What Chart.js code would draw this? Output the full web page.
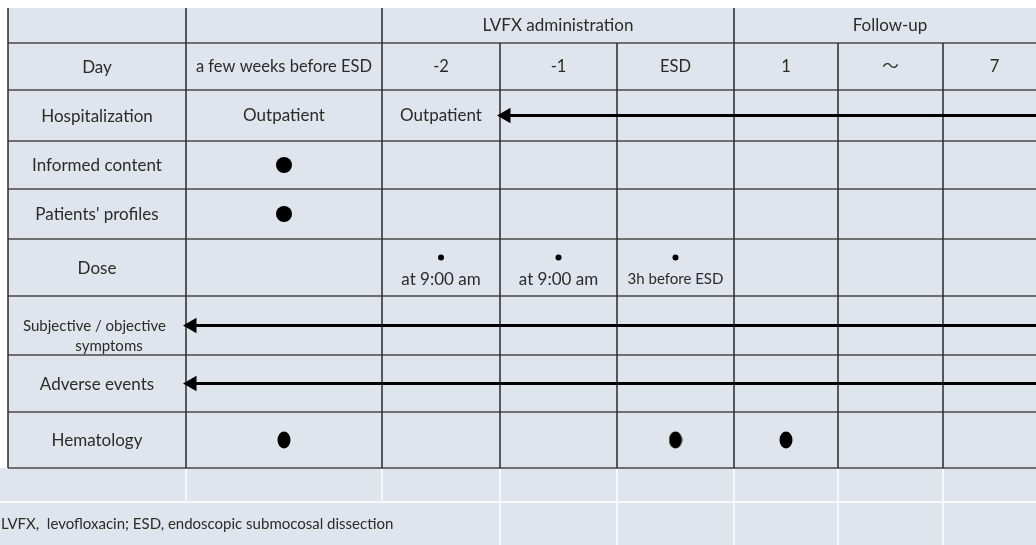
<!DOCTYPE html>
<html>
<head>
<meta charset="utf-8">
<script src="https://cdn.jsdelivr.net/npm/chart.js@4/dist/chart.umd.min.js"></script>
<style>
  html, body { margin: 0; padding: 0; background: #fff; }
  #wrap { width: 1036px; height: 545px; }
</style>
</head>
<body>
<div id="wrap"><canvas id="schedule" width="1036" height="545"></canvas></div>
<script>
// --- Data ---
const ROW_LABELS = [
  "", "Day", "Hospitalization", "Informed content", "Patients' profiles",
  "Dose", "Subjective / objective|symptoms", "Adverse events", "Hematology",
];
const DAY_LABELS = ["a few weeks before ESD", "-2", "-1", "ESD", "1", "\u301C", "7"];
const PHASES = ["LVFX administration", "Follow-up"];
const PHASE_FIRST_DAY = [1, 4]; // phase starts at this day column (runs to the next phase)

const HOSPITALIZATION = ["Outpatient", "Outpatient", "", "", "", "", ""];
const HOSP_ARROW_FROM = 2;     // arrow runs from the right edge back to this day column
const SYMPTOMS_ARROW_FROM = 0;
const ADVERSE_ARROW_FROM = 0;

const INFORMED_CONTENT = [1, 0, 0, 0, 0, 0, 0];
const PATIENT_PROFILES = [1, 0, 0, 0, 0, 0, 0];
const DOSE = [0, 1, 1, 1, 0, 0, 0];
const DOSE_NOTES = ["", "at 9:00 am", "at 9:00 am", "3h before ESD", "", "", ""];
const HEMATOLOGY = [1, 0, 0, 1, 1, 0, 0];

const FOOTNOTE = "LVFX,  levofloxacin; ESD, endoscopic submocosal dissection";

// --- Layout (canvas units) ---
const W = 1036, H = 545;
const COL_EDGES = [8, 186, 382, 500, 617, 734, 838, 943, 1046]; // label column + 7 day columns
const ROW_EDGES = [8, 43, 90, 141, 189, 239, 296, 355, 412, 468];
const EXTRA_ROW = 502;
const FONT = "Lato, 'Noto Sans CJK JP', sans-serif";
const INK = "#2b2b2b";

const rowOf = (name) => ROW_LABELS.findIndex((r) => r.startsWith(name));
const colCenter = (day) => (COL_EDGES[day + 1] + COL_EDGES[day + 2]) / 2;
const rowCenter = (row) => (ROW_EDGES[row] + ROW_EDGES[row + 1]) / 2;

function marks(flags, row, dy = 0) {
  return flags.map((f, i) => (f ? { x: colCenter(i), y: rowCenter(row) + dy } : null)).filter(Boolean);
}

function arrow(row, fromDay, label) {
  const headR = 6;
  return {
    label,
    type: "scatter",
    showLine: true,
    data: [
      { x: COL_EDGES[COL_EDGES.length - 1], y: rowCenter(row) },
      { x: COL_EDGES[fromDay + 1] + headR, y: rowCenter(row) },
    ],
    borderColor: "#000",
    backgroundColor: "#000",
    borderWidth: 3,
    pointRadius: [0, headR],
    pointStyle: "triangle",
    rotation: -90,
  };
}

// Hematology marks look like upright ovals in the source figure
const oval = document.createElement("canvas");
oval.width = 14;
oval.height = 18;
(() => {
  const c = oval.getContext("2d");
  c.fillStyle = "#000";
  c.beginPath();
  c.ellipse(7, 9, 6.5, 8.5, 0, 0, Math.PI * 2);
  c.fill();
})();

function text(ctx, str, x, y, size, align = "center") {
  ctx.font = `${size}px ${FONT}`;
  ctx.textAlign = align;
  ctx.textBaseline = "middle";
  ctx.fillStyle = INK;
  ctx.fillText(str, x, y);
}

const tablePlugin = {
  id: "scheduleTable",
  beforeDatasetsDraw(chart) {
    const { ctx, scales } = chart;
    const px = (v) => scales.x.getPixelForValue(v);
    const py = (v) => scales.y.getPixelForValue(v);
    const last = ROW_EDGES.length - 1;
    ctx.save();

    ctx.fillStyle = "#fff";
    ctx.fillRect(0, 0, W, H);
    ctx.fillStyle = "#dfe4ed";
    ctx.fillRect(px(COL_EDGES[0]), py(ROW_EDGES[0]), W, py(ROW_EDGES[last]) - py(ROW_EDGES[0]));
    ctx.fillRect(0, py(ROW_EDGES[last]), W, H);

    // faint grid under the table
    ctx.strokeStyle = "#f6f8fb";
    ctx.lineWidth = 2;
    ctx.beginPath();
    ctx.moveTo(0, py(EXTRA_ROW));
    ctx.lineTo(W, py(EXTRA_ROW));
    COL_EDGES.slice(1).forEach((e, i) => {
      ctx.moveTo(px(e), py(ROW_EDGES[last]));
      ctx.lineTo(px(e), py(i < 2 ? EXTRA_ROW : H));
    });
    ctx.stroke();

    // horizontal rules
    ctx.strokeStyle = "#6f6f6f";
    ctx.lineWidth = 2;
    ctx.beginPath();
    ROW_EDGES.slice(1).forEach((e) => {
      ctx.moveTo(px(COL_EDGES[0]), py(e));
      ctx.lineTo(W, py(e));
    });
    ctx.stroke();

    // vertical rules (top row only keeps the phase boundaries)
    ctx.strokeStyle = "#2a2a2a";
    ctx.lineWidth = 1.5;
    ctx.beginPath();
    const phaseEdges = [0, 1, ...PHASE_FIRST_DAY.map((d) => d + 1)];
    COL_EDGES.forEach((e, i) => {
      const top = phaseEdges.includes(i) ? ROW_EDGES[0] : ROW_EDGES[1];
      ctx.moveTo(px(e), py(top));
      ctx.lineTo(px(e), py(ROW_EDGES[last]));
    });
    ctx.stroke();

    // phase headers
    PHASES.forEach((p, i) => {
      const a = COL_EDGES[PHASE_FIRST_DAY[i] + 1];
      const b = i + 1 < PHASES.length ? COL_EDGES[PHASE_FIRST_DAY[i + 1] + 1] : COL_EDGES[COL_EDGES.length - 1];
      text(ctx, p, px((a + b) / 2), py(rowCenter(0)), 17);
    });

    // row labels
    const labelX = px((COL_EDGES[0] + COL_EDGES[1]) / 2);
    ROW_LABELS.forEach((r, i) => {
      if (!r) return;
      if (r.includes("|")) {
        const [l1, l2] = r.split("|");
        text(ctx, l1, px(23), py(rowCenter(i) + 1), 15, "left");
        text(ctx, l2, labelX + 12, py(rowCenter(i) + 21), 15);
      } else {
        text(ctx, r, labelX, py(rowCenter(i) + 1), 17);
      }
    });

    // day header, hospitalization and dose notes
    DAY_LABELS.forEach((d, i) => text(ctx, d, px(colCenter(i)), py(rowCenter(1)), 16.5));
    HOSPITALIZATION.forEach((h, i) => h && text(ctx, h, px(colCenter(i)), py(rowCenter(rowOf("Hospitalization"))), 17));
    DOSE_NOTES.forEach((n, i) => n && text(ctx, n, px(colCenter(i)), py(rowCenter(rowOf("Dose")) + 12), n.length > 11 ? 15 : 17));

    text(ctx, FOOTNOTE, 1, py(524), 15, "left");
    ctx.restore();
  },
};

new Chart(document.getElementById("schedule"), {
  type: "scatter",
  data: {
    datasets: [
      {
        label: "Informed content / profiles",
        data: [...marks(INFORMED_CONTENT, rowOf("Informed")), ...marks(PATIENT_PROFILES, rowOf("Patients"))],
        backgroundColor: "#000",
        borderWidth: 0,
        pointRadius: 8,
      },
      {
        label: "Dose",
        data: marks(DOSE, rowOf("Dose"), -10),
        backgroundColor: "#000",
        borderWidth: 0,
        pointRadius: 3,
      },
      {
        label: "Hematology",
        data: marks(HEMATOLOGY, rowOf("Hematology")),
        pointStyle: oval,
        backgroundColor: "#000",
      },
      arrow(rowOf("Hospitalization"), HOSP_ARROW_FROM, "Hospitalization"),
      arrow(rowOf("Subjective"), SYMPTOMS_ARROW_FROM, "Symptoms"),
      arrow(rowOf("Adverse"), ADVERSE_ARROW_FROM, "Adverse events"),
    ],
  },
  options: {
    responsive: false,
    animation: false,
    events: [],
    layout: { padding: 0, autoPadding: false },
    scales: {
      x: { type: "linear", display: false, min: 0, max: W },
      y: { type: "linear", display: false, min: 0, max: H, reverse: true },
    },
    plugins: { legend: { display: false }, tooltip: { enabled: false } },
  },
  plugins: [tablePlugin],
});
</script>
</body>
</html>
